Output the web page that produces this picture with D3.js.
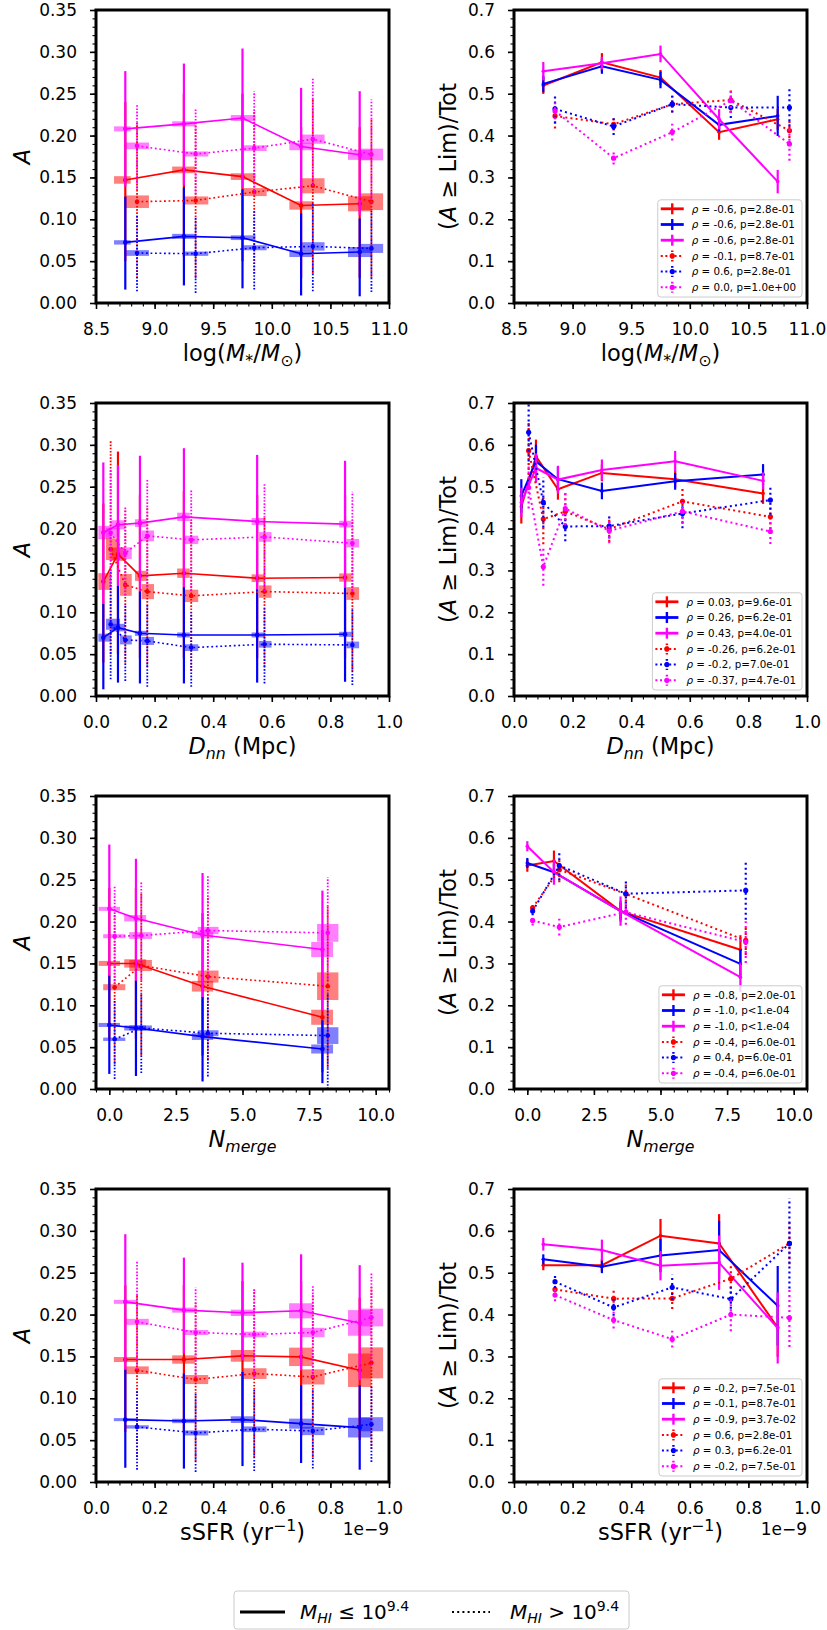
<!DOCTYPE html>
<html><head><meta charset="utf-8">
<script src="https://cdn.jsdelivr.net/npm/d3@7"></script>
<style>body{margin:0;background:#fff} text{font-family:"DejaVu Sans",sans-serif;}</style>
</head><body>
<svg id="c" width="827" height="1630"></svg>
<script>
// ---------------- DATA ----------------
const COLORS = ["#ff0000", "#0000ff", "#ff00ff"];

// Row 1: stellar mass
const M_xS = [8.75, 9.25, 9.75, 10.25, 10.75];
const M_xD = [8.85, 9.35, 9.85, 10.35, 10.85];
const M_boxS = [[8.654,8.796],[9.15,9.345],[9.65,9.86],[10.15,10.35],[10.65,10.85]];
const M_boxD = [[8.756,8.952],[9.254,9.458],[9.757,9.956],[10.25,10.45],[10.75,10.95]];
// [median A, lower, upper, half-height of shaded box]
const M_A_redS = [[0.147,0.050,0.240,0.0045],[0.159,0.055,0.250,0.004],[0.151,0.050,0.250,0.004],[0.1165,0.030,0.210,0.005],[0.1185,0.030,0.210,0.009]];
const M_A_bluS = [[0.0724,0.016,0.127,0.0026],[0.0796,0.021,0.138,0.003],[0.078,0.0175,0.136,0.0028],[0.0589,0.009,0.107,0.004],[0.0609,0.008,0.101,0.006]];
const M_A_magS = [[0.208,0.139,0.277,0.003],[0.214,0.141,0.286,0.003],[0.221,0.137,0.304,0.0035],[0.187,0.120,0.257,0.0045],[0.177,0.105,0.253,0.006]];
const M_A_redD = [[0.121,0.030,0.215,0.0075],[0.1225,0.030,0.215,0.0048],[0.1325,0.035,0.230,0.0048],[0.140,0.035,0.245,0.009],[0.121,0.030,0.220,0.010]];
const M_A_bluD = [[0.0597,0.014,0.105,0.0034],[0.0589,0.012,0.103,0.0026],[0.066,0.016,0.110,0.003],[0.0676,0.014,0.120,0.005],[0.0652,0.013,0.110,0.0054]];
const M_A_magD = [[0.1877,0.135,0.237,0.004],[0.178,0.130,0.231,0.003],[0.185,0.130,0.253,0.0034],[0.1957,0.140,0.268,0.0055],[0.1774,0.120,0.243,0.007]];
// [fraction, error]
const M_F_redS = [[0.5195,0.02],[0.575,0.022],[0.5386,0.018],[0.408,0.018],[0.439,0.025]];
const M_F_bluS = [[0.5235,0.02],[0.5656,0.018],[0.533,0.02],[0.4256,0.015],[0.447,0.048]];
const M_F_magS = [[0.5537,0.022],[0.573,0.015],[0.595,0.02],[0.439,0.024],[0.290,0.028]];
const M_F_redD = [[0.447,0.03],[0.427,0.015],[0.475,0.02],[0.485,0.03],[0.412,0.03]];
const M_F_bluD = [[0.4638,0.035],[0.4216,0.02],[0.475,0.02],[0.467,0.025],[0.467,0.045]];
const M_F_magD = [[0.459,0.02],[0.346,0.015],[0.408,0.02],[0.4837,0.03],[0.380,0.04]];
const M_leg = [" = -0.6, p=2.8e-01"," = -0.6, p=2.8e-01"," = -0.6, p=2.8e-01"," = -0.1, p=8.7e-01"," = 0.6, p=2.8e-01"," = 0.0, p=1.0e+00"];

// Row 2: nearest neighbour distance
const D_xS = [0.025, 0.075, 0.15, 0.30, 0.55, 0.85];
const D_xD = [0.05, 0.10, 0.175, 0.325, 0.575, 0.875];
const D_boxS = [[0.008,0.051],[0.053,0.099],[0.133,0.173],[0.277,0.320],[0.531,0.576],[0.830,0.872]];
const D_boxD = [[0.034,0.082],[0.082,0.122],[0.156,0.198],[0.303,0.349],[0.556,0.599],[0.855,0.898]];
const D_A_redS = [[0.1367,0.040,0.230,0.010],[0.1694,0.050,0.292,0.008],[0.1435,0.045,0.240,0.006],[0.1467,0.045,0.245,0.0056],[0.1407,0.045,0.240,0.0046],[0.1415,0.045,0.240,0.005]];
const D_A_bluS = [[0.0697,0.008,0.110,0.0048],[0.0817,0.016,0.1315,0.0045],[0.0749,0.015,0.125,0.003],[0.0729,0.015,0.130,0.003],[0.0729,0.016,0.1275,0.003],[0.0737,0.017,0.1295,0.003]];
const D_A_magS = [[0.1953,0.110,0.279,0.008],[0.2045,0.1315,0.276,0.0054],[0.2065,0.125,0.287,0.0046],[0.214,0.130,0.296,0.005],[0.2085,0.1275,0.288,0.0042],[0.2053,0.1295,0.281,0.004]];
const D_A_redD = [[0.1754,0.050,0.305,0.013],[0.1327,0.040,0.222,0.013],[0.1247,0.035,0.225,0.009],[0.1196,0.030,0.210,0.0074],[0.1247,0.035,0.215,0.0074],[0.1224,0.030,0.210,0.0076]];
const D_A_bluD = [[0.0857,0.020,0.150,0.0066],[0.067,0.018,0.110,0.0054],[0.0658,0.011,0.110,0.0048],[0.0578,0.011,0.100,0.004],[0.0618,0.015,0.105,0.004],[0.061,0.013,0.105,0.004]];
const D_A_magD = [[0.195,0.130,0.270,0.006],[0.1706,0.120,0.226,0.007],[0.1913,0.130,0.259,0.0064],[0.1865,0.125,0.247,0.005],[0.190,0.125,0.254,0.0058],[0.1825,0.125,0.244,0.005]];
const D_F_redS = [[0.452,0.04],[0.5726,0.04],[0.494,0.025],[0.533,0.02],[0.518,0.02],[0.484,0.025]];
const D_F_bluS = [[0.478,0.04],[0.5606,0.04],[0.518,0.03],[0.490,0.02],[0.5128,0.02],[0.529,0.025]];
const D_F_magS = [[0.4625,0.035],[0.5447,0.035],[0.517,0.033],[0.540,0.025],[0.5606,0.025],[0.514,0.02]];
const D_F_redD = [[0.586,0.07],[0.4226,0.06],[0.441,0.045],[0.3987,0.03],[0.465,0.035],[0.428,0.03]];
const D_F_bluD = [[0.630,0.07],[0.4625,0.06],[0.405,0.035],[0.406,0.03],[0.436,0.035],[0.468,0.035]];
const D_F_magD = [[0.498,0.05],[0.3086,0.045],[0.448,0.04],[0.3947,0.03],[0.441,0.03],[0.393,0.03]];
const D_leg = [" = 0.03, p=9.6e-01"," = 0.26, p=6.2e-01"," = 0.43, p=4.0e-01"," = -0.26, p=6.2e-01"," = -0.2, p=7.0e-01"," = -0.37, p=4.7e-01"];

// Row 3: number of mergers
const N_xS = [0, 1, 3.5, 8];
const N_xD = [0.2, 1.2, 3.7, 8.2];
const N_boxS = [[-0.4,0.4],[0.56,1.38],[3.1,3.9],[7.58,8.4]];
const N_boxD = [[-0.23,0.6],[0.75,1.6],[3.32,4.1],[7.8,8.6]];
const N_A_redS = [[0.150,0.060,0.240,0.003],[0.150,0.060,0.240,0.005],[0.1228,0.040,0.210,0.0064],[0.0857,0.020,0.190,0.009]];
const N_A_bluS = [[0.0765,0.018,0.1355,0.0024],[0.0729,0.0155,0.1295,0.003],[0.0626,0.009,0.110,0.004],[0.0478,0.007,0.082,0.0054]];
const N_A_magS = [[0.2152,0.1355,0.292,0.0024],[0.204,0.1295,0.275,0.0038],[0.184,0.110,0.258,0.004],[0.1666,0.0937,0.237,0.009]];
const N_A_redD = [[0.1216,0.030,0.210,0.0036],[0.1475,0.040,0.235,0.0066],[0.1343,0.035,0.230,0.0072],[0.1228,0.025,0.220,0.0165]];
const N_A_bluD = [[0.0594,0.012,0.105,0.002],[0.0729,0.019,0.115,0.003],[0.0666,0.015,0.110,0.0036],[0.0638,0.000,0.115,0.010]];
const N_A_magD = [[0.1825,0.125,0.242,0.0024],[0.1833,0.130,0.248,0.004],[0.1893,0.130,0.256,0.0044],[0.1865,0.130,0.253,0.0106]];
const N_F_redS = [[0.534,0.015],[0.5447,0.025],[0.425,0.025],[0.3325,0.035]];
const N_F_bluS = [[0.540,0.012],[0.518,0.02],[0.425,0.02],[0.299,0.035]];
const N_F_magS = [[0.580,0.012],[0.518,0.03],[0.425,0.035],[0.267,0.035]];
const N_F_redD = [[0.433,0.01],[0.524,0.03],[0.466,0.03],[0.355,0.035]];
const N_F_bluD = [[0.425,0.01],[0.534,0.035],[0.4665,0.035],[0.4745,0.07]];
const N_F_magD = [[0.4027,0.012],[0.3868,0.02],[0.4226,0.03],[0.351,0.05]];
const N_leg = [" = -0.8, p=2.0e-01"," = -1.0, p<1.e-04"," = -1.0, p<1.e-04"," = -0.4, p=6.0e-01"," = 0.4, p=6.0e-01"," = -0.4, p=6.0e-01"];

// Row 4: specific star formation rate (units of 1e-9 yr^-1)
const S_xS = [0.1, 0.3, 0.5, 0.7, 0.9];
const S_xD = [0.14, 0.34, 0.54, 0.74, 0.94];
const S_boxS = [[0.061,0.139],[0.26,0.3375],[0.46,0.542],[0.659,0.739],[0.86,0.94]];
const S_boxD = [[0.102,0.18],[0.30,0.383],[0.502,0.582],[0.70,0.78],[0.90,0.98]];
const S_A_redS = [[0.1463,0.060,0.235,0.003],[0.1463,0.060,0.235,0.005],[0.1507,0.060,0.240,0.007],[0.1495,0.055,0.240,0.011],[0.1335,0.050,0.220,0.020]];
const S_A_bluS = [[0.0745,0.017,0.1343,0.0018],[0.0729,0.016,0.1295,0.0026],[0.0745,0.019,0.1315,0.004],[0.0697,0.0227,0.1156,0.006],[0.065,0.0147,0.1156,0.0118]];
const S_A_magS = [[0.2152,0.1343,0.296,0.0024],[0.2053,0.1534,0.268,0.003],[0.2021,0.1455,0.262,0.0038],[0.2045,0.1335,0.272,0.009],[0.190,0.1216,0.259,0.0153]];
const S_A_redD = [[0.1335,0.030,0.225,0.0046],[0.1224,0.025,0.215,0.0054],[0.1295,0.030,0.230,0.0064],[0.1255,0.030,0.225,0.009],[0.1423,0.040,0.235,0.0185]];
const S_A_bluD = [[0.0658,0.0147,0.110,0.002],[0.0586,0.012,0.105,0.003],[0.063,0.013,0.110,0.0034],[0.061,0.016,0.110,0.005],[0.069,0.024,0.115,0.0084]];
const S_A_magD = [[0.1913,0.135,0.264,0.0036],[0.1786,0.125,0.2324,0.003],[0.1762,0.125,0.230,0.0034],[0.1786,0.125,0.234,0.0056],[0.1965,0.140,0.249,0.0106]];
const S_F_redS = [[0.518,0.012],[0.518,0.015],[0.5885,0.04],[0.570,0.07],[0.369,0.07]];
const S_F_bluS = [[0.532,0.012],[0.514,0.015],[0.541,0.04],[0.554,0.07],[0.421,0.095]];
const S_F_magS = [[0.5678,0.015],[0.554,0.025],[0.5167,0.035],[0.524,0.065],[0.368,0.085]];
const S_F_redD = [[0.460,0.012],[0.438,0.022],[0.4386,0.025],[0.4857,0.035],[0.570,0.05]];
const S_F_bluD = [[0.4785,0.015],[0.417,0.02],[0.465,0.03],[0.437,0.035],[0.570,0.108]];
const S_F_magD = [[0.4466,0.015],[0.3868,0.02],[0.3413,0.02],[0.400,0.04],[0.3923,0.07]];
const S_leg = [" = -0.2, p=7.5e-01"," = -0.1, p=8.7e-01"," = -0.9, p=3.7e-02"," = 0.6, p=2.8e-01"," = 0.3, p=6.2e-01"," = -0.2, p=7.5e-01"];

// Axis tick values
const M_ticks = [8.5, 9.0, 9.5, 10.0, 10.5, 11.0];
const D_ticks = [0.0, 0.2, 0.4, 0.6, 0.8, 1.0];
const N_ticks = [0.0, 2.5, 5.0, 7.5, 10.0];
const S_ticks = [0.0, 0.2, 0.4, 0.6, 0.8, 1.0];
const A_ticks = [0.00, 0.05, 0.10, 0.15, 0.20, 0.25, 0.30, 0.35];
const F_ticks = [0.0, 0.1, 0.2, 0.3, 0.4, 0.5, 0.6, 0.7];

// ---------------- LAYOUT ----------------
const ROWS = [
  {dom:[8.5,11.0], ticks:M_ticks, minor:0.1, xS:M_xS, xD:M_xD, boxS:M_boxS, boxD:M_boxD,
   A:[M_A_redS,M_A_bluS,M_A_magS,M_A_redD,M_A_bluD,M_A_magD], F:[M_F_redS,M_F_bluS,M_F_magS,M_F_redD,M_F_bluD,M_F_magD], leg:M_leg,
   label:[{t:"log("},{t:"M",it:1},{t:"*",sub:1},{t:"/"},{t:"M",it:1},{t:"⊙",sub:1},{t:")"}]},
  {dom:[0,1], ticks:D_ticks, minor:0.04, xS:D_xS, xD:D_xD, boxS:D_boxS, boxD:D_boxD,
   A:[D_A_redS,D_A_bluS,D_A_magS,D_A_redD,D_A_bluD,D_A_magD], F:[D_F_redS,D_F_bluS,D_F_magS,D_F_redD,D_F_bluD,D_F_magD], leg:D_leg,
   label:[{t:"D",it:1},{t:"nn",it:1,sub:1},{t:" (Mpc)"}]},
  {dom:[-0.5,10.5], ticks:N_ticks, minor:0.5, xS:N_xS, xD:N_xD, boxS:N_boxS, boxD:N_boxD,
   A:[N_A_redS,N_A_bluS,N_A_magS,N_A_redD,N_A_bluD,N_A_magD], F:[N_F_redS,N_F_bluS,N_F_magS,N_F_redD,N_F_bluD,N_F_magD], leg:N_leg,
   label:[{t:"N",it:1},{t:"merge",it:1,sub:1}]},
  {dom:[0,1], ticks:S_ticks, minor:0.04, xS:S_xS, xD:S_xD, boxS:S_boxS, boxD:S_boxD,
   A:[S_A_redS,S_A_bluS,S_A_magS,S_A_redD,S_A_bluD,S_A_magD], F:[S_F_redS,S_F_bluS,S_F_magS,S_F_redD,S_F_bluD,S_F_magD], leg:S_leg,
   label:[{t:"sSFR (yr"},{t:"−1",sup:1},{t:")"}], offset:"1e−9"}
];
const W = 293, H = 293;
const COLX = [96, 514];
const ROWY = [10, 403, 796, 1189];
const TICKFS = 17, LABFS = 22.5, LEGFS = 10.3;

const svg = d3.select("#c");

function rich(sel, parts, fs) {
  let shift = 0;
  parts.forEach(p => {
    const ts = sel.append("tspan").text(p.t);
    if (p.it) ts.attr("font-style", "italic");
    const target = p.sub ? 0.22 * fs : (p.sup ? -0.42 * fs : 0);
    ts.attr("dy", target - shift);
    shift = target;
    if (p.sub || p.sup) ts.attr("font-size", fs * 0.7);
  });
}

function stepRange(a, b, s) {
  const n = Math.round((b - a) / s);
  const out = [];
  for (let i = 0; i <= n; i++) out.push(+(a + i * s).toFixed(6));
  return out;
}

function axes(g, x, y, row, yTicks, yMinor, yFmt) {
  const ax = g.append("g").attr("transform", `translate(0,${H})`);
  ax.call(d3.axisBottom(x).tickValues(stepRange(row.dom[0], row.dom[1], row.minor)).tickSize(3.5).tickFormat(""));
  ax.selectAll("line").attr("stroke-width", 1.1);
  const axM = g.append("g").attr("transform", `translate(0,${H})`);
  axM.call(d3.axisBottom(x).tickValues(row.ticks).tickSize(6).tickPadding(14).tickFormat(d3.format(".1f")));
  axM.selectAll("line").attr("stroke-width", 1.6);
  axM.selectAll("text").attr("font-size", TICKFS).attr("font-family", "DejaVu Sans").attr("fill", "#000");
  const ay = g.append("g");
  ay.call(d3.axisLeft(y).tickValues(yMinor).tickSize(3.5).tickFormat(""));
  ay.selectAll("line").attr("stroke-width", 1.1);
  const ayM = g.append("g");
  ayM.call(d3.axisLeft(y).tickValues(yTicks).tickSize(6).tickPadding(13).tickFormat(d3.format(yFmt)));
  ayM.selectAll("line").attr("stroke-width", 1.6);
  ayM.selectAll("text").attr("font-size", TICKFS).attr("font-family", "DejaVu Sans").attr("fill", "#000");
  [ax, axM, ay, ayM].forEach(a => a.select(".domain").remove());
  const xl = g.append("text").attr("x", W / 2).attr("y", H + 58).attr("text-anchor", "middle").attr("font-size", LABFS);
  rich(xl, row.label, LABFS);
  if (row.offset) {
    g.append("text").attr("x", W).attr("y", H + 53).attr("text-anchor", "end").attr("font-size", TICKFS).text(row.offset);
  }
}

const SERIES = [[0,"S"],[1,"S"],[2,"S"],[0,"D"],[1,"D"],[2,"D"]];

ROWS.forEach((row, r) => {
  // ---------- LEFT ----------
  {
    const g = svg.append("g").attr("transform", `translate(${COLX[0]},${ROWY[r]})`);
    const x = d3.scaleLinear().domain(row.dom).range([0, W]);
    const y = d3.scaleLinear().domain([0, 0.35]).range([H, 0]);
    const cid = "clipL" + r;
    g.append("clipPath").attr("id", cid).append("rect").attr("width", W).attr("height", H);
    const pg = g.append("g").attr("clip-path", `url(#${cid})`);
    SERIES.forEach(([ci, st], k) => {
      const d = row.A[k], bx = st === "S" ? row.boxS : row.boxD;
      pg.append("g").selectAll("rect").data(d).join("rect")
        .attr("x", (p, i) => x(bx[i][0])).attr("width", (p, i) => x(bx[i][1]) - x(bx[i][0]))
        .attr("y", p => y(p[0] + p[3])).attr("height", p => y(p[0] - p[3]) - y(p[0] + p[3]))
        .attr("fill", COLORS[ci]).attr("fill-opacity", 0.5);
    });
    SERIES.forEach(([ci, st], k) => {
      const d = row.A[k], xs = st === "S" ? row.xS : row.xD;
      const c = COLORS[ci];
      pg.append("g").selectAll("line").data(d).join("line")
        .attr("x1", (p, i) => x(xs[i])).attr("x2", (p, i) => x(xs[i]))
        .attr("y1", p => y(p[1])).attr("y2", p => y(p[2]))
        .attr("stroke", c).attr("stroke-width", st === "D" ? 1.8 : 2.2)
        .attr("stroke-dasharray", st === "D" ? "1.6,1.6" : null);
      pg.append("path").datum(d.map((p, i) => [xs[i], p[0]]))
        .attr("d", d3.line().x(q => x(q[0])).y(q => y(q[1])))
        .attr("fill", "none").attr("stroke", c).attr("stroke-width", 1.6)
        .attr("stroke-dasharray", st === "D" ? "1.8,2.7" : null);
      pg.append("g").selectAll("circle").data(d).join("circle")
        .attr("cx", (p, i) => x(xs[i])).attr("cy", p => y(p[0])).attr("r", 2.3).attr("fill", c);
    });
    axes(g, x, y, row, A_ticks, stepRange(0, 0.35, 0.01), ".2f");
    const yl = g.append("text").attr("transform", `translate(${30 - COLX[0]},${H / 2}) rotate(-90)`)
      .attr("text-anchor", "middle").attr("font-size", LABFS);
    rich(yl, [{t:"A", it:1}], LABFS);
    g.append("rect").attr("width", W).attr("height", H).attr("fill", "none").attr("stroke", "#000").attr("stroke-width", 3);
  }
  // ---------- RIGHT ----------
  {
    const g = svg.append("g").attr("transform", `translate(${COLX[1]},${ROWY[r]})`);
    const x = d3.scaleLinear().domain(row.dom).range([0, W]);
    const y = d3.scaleLinear().domain([0, 0.7]).range([H, 0]);
    const cid = "clipR" + r;
    g.append("clipPath").attr("id", cid).append("rect").attr("width", W).attr("height", H);
    const pg = g.append("g").attr("clip-path", `url(#${cid})`);
    SERIES.forEach(([ci, st], k) => {
      const d = row.F[k], xs = st === "S" ? row.xS : row.xD;
      const c = COLORS[ci];
      pg.append("g").selectAll("line").data(d).join("line")
        .attr("x1", (p, i) => x(xs[i])).attr("x2", (p, i) => x(xs[i]))
        .attr("y1", p => y(p[0] - p[1])).attr("y2", p => y(p[0] + p[1]))
        .attr("stroke", c).attr("stroke-width", 2.2)
        .attr("stroke-dasharray", st === "D" ? "2,3" : null);
      pg.append("path").datum(d.map((p, i) => [xs[i], p[0]]))
        .attr("d", d3.line().x(q => x(q[0])).y(q => y(q[1])))
        .attr("fill", "none").attr("stroke", c).attr("stroke-width", 2)
        .attr("stroke-dasharray", st === "D" ? "2,3.2" : null);
      pg.append("g").selectAll("circle").data(d).join("circle")
        .attr("cx", (p, i) => x(xs[i])).attr("cy", p => y(p[0])).attr("r", st === "D" ? 2.6 : 1.8).attr("fill", c);
    });
    axes(g, x, y, row, F_ticks, stepRange(0, 0.7, 0.02), ".1f");
    const yl = g.append("text").attr("transform", `translate(${456 - COLX[1]},${H / 2}) rotate(-90)`)
      .attr("text-anchor", "middle").attr("font-size", LABFS);
    rich(yl, [{t:"("},{t:"A", it:1},{t:" ≥ Lim)/Tot"}], LABFS);
    g.append("rect").attr("width", W).attr("height", H).attr("fill", "none").attr("stroke", "#000").attr("stroke-width", 3);
    // legend
    const lg = g.append("g");
    const box = lg.append("rect");
    const rowH = 15.7;
    let maxW = 0;
    const items = [];
    SERIES.forEach(([ci, st], k) => {
      const it = lg.append("g");
      const t = it.append("text").attr("font-size", LEGFS);
      rich(t, [{t:"ρ", it:1},{t:row.leg[k]}], LEGFS);
      maxW = Math.max(maxW, t.node().getComputedTextLength());
      items.push([it, t, ci, st]);
    });
    const bw = 4 + 23 + 7 + maxW + 6, bh = 6 * rowH + 3;
    const bx0 = W - 5 - bw, by0 = H - 6 - bh;
    box.attr("x", bx0).attr("y", by0).attr("width", bw).attr("height", bh).attr("rx", 3)
      .attr("fill", "#fff").attr("fill-opacity", 0.8).attr("stroke", "#cccccc").attr("stroke-width", 1);
    items.forEach(([it, t, ci, st], k) => {
      const cy = by0 + 9 + k * rowH, hx = bx0 + 3;
      const c = COLORS[ci];
      it.insert("line", "text").attr("x1", hx).attr("x2", hx + 23).attr("y1", cy).attr("y2", cy)
        .attr("stroke", c).attr("stroke-width", st === "D" ? 2 : 2.8).attr("stroke-dasharray", st === "D" ? "2,2.6" : null);
      it.insert("line", "text").attr("x1", hx + 11.5).attr("x2", hx + 11.5).attr("y1", cy - 5.5).attr("y2", cy + 5.5)
        .attr("stroke", c).attr("stroke-width", 2.4).attr("stroke-dasharray", st === "D" ? "1.6,1.6" : null);
      if (st === "D") it.insert("circle", "text").attr("cx", hx + 11.5).attr("cy", cy).attr("r", 2.6).attr("fill", c);
      t.attr("x", hx + 31).attr("y", cy + 3.7);
    });
  }
});

// ---------- bottom legend ----------
{
  const g = svg.append("g");
  g.append("rect").attr("x", 234).attr("y", 1591).attr("width", 395).attr("height", 38).attr("rx", 3)
    .attr("fill", "#fff").attr("stroke", "#cccccc").attr("stroke-width", 1);
  g.append("line").attr("x1", 240).attr("x2", 285).attr("y1", 1612).attr("y2", 1612).attr("stroke", "#000").attr("stroke-width", 3);
  g.append("line").attr("x1", 452).attr("x2", 490).attr("y1", 1612).attr("y2", 1612).attr("stroke", "#000").attr("stroke-width", 2).attr("stroke-dasharray", "2,3.2");
  const t1 = g.append("text").attr("x", 300).attr("y", 1619).attr("font-size", 20);
  rich(t1, [{t:"M", it:1},{t:"HI", it:1, sub:1},{t:" ≤ 10"},{t:"9.4", sup:1}], 20);
  const t2 = g.append("text").attr("x", 510).attr("y", 1619).attr("font-size", 20);
  rich(t2, [{t:"M", it:1},{t:"HI", it:1, sub:1},{t:" > 10"},{t:"9.4", sup:1}], 20);
}
</script>
</body></html>
